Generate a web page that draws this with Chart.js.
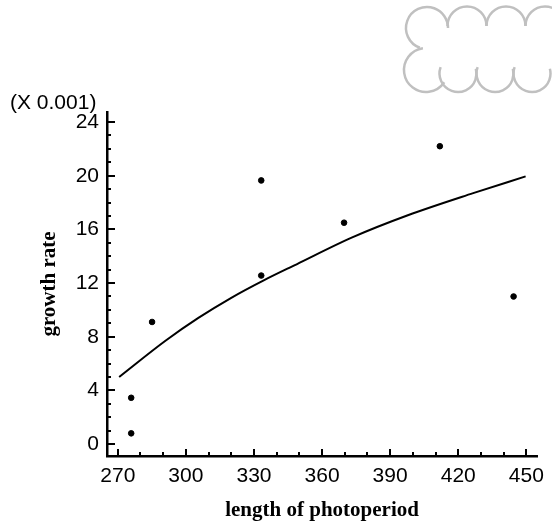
<!DOCTYPE html>
<html lang="en">
<head>
    <meta charset="UTF-8">
    <title>Growth rate vs photoperiod</title>
    <style>
        html, body { margin: 0; padding: 0; background: #fff; }
        #chart-container { width: 552px; height: 524px; position: relative; }
    </style>
    <script src="https://cdn.jsdelivr.net/npm/chart.js"></script>
</head>
<body>
    <div id="chart-container">
        <canvas id="growthChart"></canvas>
    </div>
    <script>
        // observed points
        const photoperiod = [275.9, 275.9, 285.1, 333.2, 333.2, 369.7, 411.9, 444.4];
        const growthRate = [3.45, 0.8, 9.1, 19.65, 12.56, 16.5, 22.2, 11.0];

        // fitted curve
        const fitX = [270.6, 291, 305.5, 320, 334.3, 348.8, 373.3, 397.8, 426.6, 449.7];
        const fitY = [5.0, 7.7, 9.4, 10.9, 12.2, 13.4, 15.4, 17.05, 18.7, 19.95];

        const xTicks = [270, 300, 330, 360, 390, 420, 450];
        const yTicks = [0, 4, 8, 12, 16, 20, 24];
        const scaleNote = '(X 0.001)';

        const extras = {
            id: 'extras',
            afterDraw(chart) {
                const ctx = chart.ctx;
                const x = chart.scales.x, y = chart.scales.y;
                const area = chart.chartArea;
                ctx.save();
                ctx.strokeStyle = '#000';
                ctx.lineWidth = 2;
                ctx.beginPath();
                // inward ticks, minor every 10 on x, every 1 on y
                for (let v = xTicks[0]; v <= xTicks[xTicks.length - 1]; v += 10) {
                    const px = Math.round(x.getPixelForValue(v));
                    const len = xTicks.includes(v) ? 7 : 4;
                    ctx.moveTo(px, area.bottom);
                    ctx.lineTo(px, area.bottom - len);
                }
                for (let v = yTicks[0]; v <= yTicks[yTicks.length - 1]; v += 1) {
                    const py = Math.round(y.getPixelForValue(v));
                    const len = yTicks.includes(v) ? 8 : 4;
                    ctx.moveTo(area.left, py);
                    ctx.lineTo(area.left + len, py);
                }
                ctx.stroke();

                ctx.fillStyle = '#000';
                ctx.font = '21px "Liberation Sans", Arial, sans-serif';
                ctx.textBaseline = 'middle';
                ctx.textAlign = 'left';
                ctx.fillText(scaleNote, 10, 103);

                // cloud doodle in the corner
                ctx.strokeStyle = '#c0c0c0';
                ctx.lineWidth = 2.5;
                const d = Math.PI / 180;
                ctx.beginPath();
                ctx.arc(427, 28, 21, 110 * d, 360 * d);
                ctx.stroke();
                [467, 506, 545].forEach(cx => {
                    ctx.beginPath();
                    ctx.arc(cx, 26, 19.5, 180 * d, 360 * d);
                    ctx.stroke();
                });
                ctx.beginPath();
                ctx.arc(426, 70, 22, 262 * d, 34 * d, true);
                ctx.stroke();
                [458, 495, 532].forEach(cx => {
                    ctx.beginPath();
                    ctx.arc(cx, 73.5, 18.5, 200 * d, -15 * d, true);
                    ctx.stroke();
                });
                ctx.restore();
            }
        };

        new Chart(document.getElementById('growthChart'), {
            type: 'scatter',
            data: {
                datasets: [{
                    label: 'observed',
                    data: photoperiod.map((p, i) => ({ x: p, y: growthRate[i] })),
                    backgroundColor: '#000',
                    borderColor: '#000',
                    pointRadius: 2.8,
                    pointHoverRadius: 2.8
                }, {
                    label: 'fit',
                    data: fitX.map((p, i) => ({ x: p, y: fitY[i] })),
                    showLine: true,
                    borderColor: '#000',
                    borderWidth: 2,
                    pointRadius: 0,
                    cubicInterpolationMode: 'monotone'
                }]
            },
            options: {
                responsive: true,
                maintainAspectRatio: false,
                animation: false,
                layout: { padding: { top: 112, right: 7, left: 0, bottom: 0 } },
                plugins: {
                    legend: { display: false },
                    tooltip: { enabled: false }
                },
                scales: {
                    x: {
                        type: 'linear',
                        position: 'bottom',
                        min: 265.24,
                        max: 454.76,
                        afterBuildTicks: s => { s.ticks = xTicks.map(v => ({ value: v })); },
                        afterFit: s => { s.height = 68; },
                        grid: { display: false, drawTicks: false },
                        border: { display: true, color: '#000', width: 2.5 },
                        ticks: {
                            color: '#000',
                            padding: 8,
                            maxRotation: 0,
                            autoSkip: false,
                            font: { family: '"Liberation Sans", Arial, sans-serif', size: 21 }
                        },
                        title: {
                            display: true,
                            text: 'length of photoperiod',
                            color: '#000',
                            padding: { top: 0, bottom: 1 },
                            font: { family: '"Liberation Serif", "Times New Roman", serif', size: 21, weight: 'bold' }
                        }
                    },
                    y: {
                        min: -0.89,
                        max: 24.75,
                        afterBuildTicks: s => { s.ticks = yTicks.map(v => ({ value: v })); },
                        afterFit: s => { s.width = 107; },
                        grid: { display: false, drawTicks: false },
                        border: { display: true, color: '#000', width: 2.5 },
                        ticks: {
                            color: '#000',
                            padding: 8,
                            autoSkip: false,
                            font: { family: '"Liberation Sans", Arial, sans-serif', size: 21 }
                        },
                        title: {
                            display: true,
                            text: 'growth rate',
                            color: '#000',
                            padding: { top: 37, bottom: 0 },
                            font: { family: '"Liberation Serif", "Times New Roman", serif', size: 21, weight: 'bold' }
                        }
                    }
                }
            },
            plugins: [extras]
        });
    </script>
</body>
</html>
